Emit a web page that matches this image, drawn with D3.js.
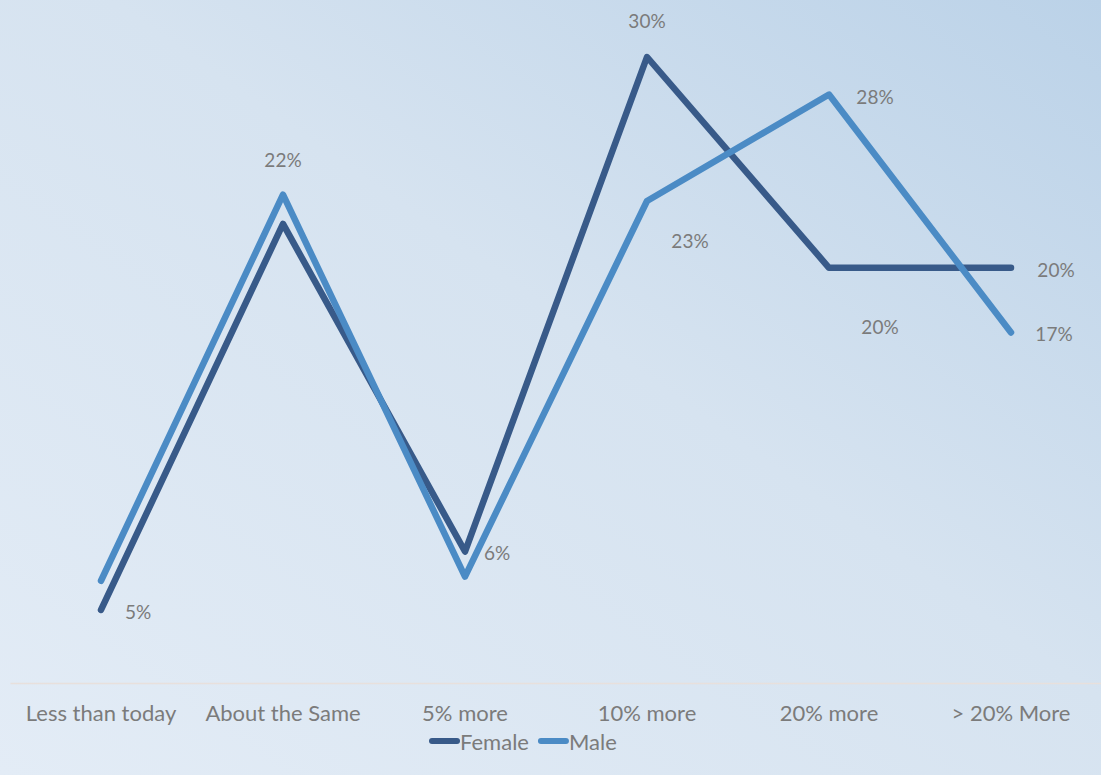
<!DOCTYPE html>
<html>
<head>
<meta charset="utf-8">
<script src="https://cdn.jsdelivr.net/npm/d3@7"></script>
<style>
  html, body { margin: 0; padding: 0; }
  svg { display: block; }
  text { font-family: Lato, "Open Sans", sans-serif; fill: #7b7b7b; }
</style>
</head>
<body>
<svg id="chart" width="1101" height="775"></svg>
<script>
// Expected salary change by gender (share of respondents)
const categories = ["Less than today", "About the Same", "5% more", "10% more", "20% more", "> 20% More"];
const female = [0.035, 0.22, 0.063, 0.30, 0.199, 0.199];
const male   = [0.049, 0.234, 0.051, 0.231, 0.282, 0.168];
const seriesNames = ["Female", "Male"];
const seriesColors = ["#385a89", "#4b8bc5"];

// Data labels: series index, category index, label offset
const labelSpecs = [
  { s: 0, i: 1, dx: 0,  dy: -64 },
  { s: 0, i: 2, dx: 32, dy: 1 },
  { s: 0, i: 3, dx: 0,  dy: -37 },
  { s: 0, i: 4, dx: 51, dy: 59 },
  { s: 0, i: 5, dx: 45, dy: 2 },
  { s: 1, i: 0, dx: 37, dy: 31 },
  { s: 1, i: 3, dx: 43, dy: 40 },
  { s: 1, i: 4, dx: 46, dy: 2 },
  { s: 1, i: 5, dx: 43, dy: 1 }
];

const W = 1101, H = 775;
const svg = d3.select("#chart");

// Background gradient
const defs = svg.append("defs");
const grad = defs.append("linearGradient")
  .attr("id", "bg").attr("x1", "0%").attr("y1", "100%").attr("x2", "100%").attr("y2", "0%");
grad.append("stop").attr("offset", "0%").attr("stop-color", "#e3ecf6");
grad.append("stop").attr("offset", "55%").attr("stop-color", "#d6e3f0");
grad.append("stop").attr("offset", "100%").attr("stop-color", "#bbd2e8");
svg.append("rect").attr("width", W).attr("height", H).attr("fill", "url(#bg)");

const x = d3.scaleBand().domain(categories).range([10, 1102]);
const y = d3.scaleLinear().domain([0, 0.30]).range([683, 57]);
const cx = c => x(c) + x.bandwidth() / 2;

// Category axis
const axis = svg.append("g").attr("transform", "translate(0,683)")
  .call(d3.axisBottom(x).tickSize(0).tickPadding(22));
axis.select(".domain").attr("stroke", "#e8e0dc").attr("stroke-width", 1.5);
axis.selectAll("text").style("font-family", "Lato, sans-serif").attr("font-size", 22).attr("fill", "#7b7b7b");

const series = [female, male];
const line = d3.line().x((d, i) => cx(categories[i])).y(d => y(d));

series.forEach((vals, s) => {
  svg.append("path")
    .datum(vals)
    .attr("d", line)
    .attr("fill", "none")
    .attr("stroke", seriesColors[s])
    .attr("stroke-width", 6.5)
    .attr("stroke-linejoin", "round")
    .attr("stroke-linecap", "round");
});

const fmt = d3.format(".0%");
svg.append("g").selectAll("text")
  .data(labelSpecs)
  .join("text")
  .attr("x", d => cx(categories[d.i]) + d.dx)
  .attr("y", d => y(series[d.s][d.i]) + d.dy)
  .attr("text-anchor", "middle")
  .attr("dominant-baseline", "central")
  .attr("font-size", 19)
  .text(d => fmt(series[d.s][d.i]));

// Legend: swatch + label per series, laid out left to right
const legend = svg.append("g").attr("transform", "translate(429,741)");
let offset = 0;
seriesNames.forEach((name, i) => {
  const g = legend.append("g").attr("transform", `translate(${offset},0)`);
  g.append("line")
    .attr("x1", 3).attr("x2", 28).attr("y1", 0).attr("y2", 0)
    .attr("stroke", seriesColors[i])
    .attr("stroke-width", 6)
    .attr("stroke-linecap", "round");
  const t = g.append("text")
    .attr("x", 31).attr("y", 0)
    .attr("dominant-baseline", "central")
    .attr("font-size", 22)
    .text(name);
  offset += 31 + t.node().getComputedTextLength() + 9;
});
</script>
</body>
</html>
